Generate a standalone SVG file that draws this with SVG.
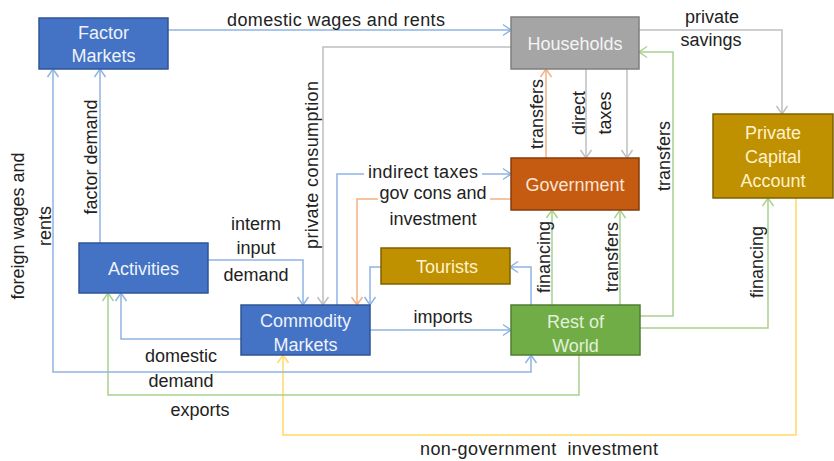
<svg xmlns="http://www.w3.org/2000/svg" width="834" height="461" viewBox="0 0 834 461">
  <style>
    text { font-family: "Liberation Sans", Arial, sans-serif; font-size: 18px; fill: #222222; }
    .node text { text-anchor: middle; }
    .lbl { text-anchor: middle; }
    .blue rect { fill: #4472c4; stroke: #2f5597; stroke-width: 1.5; }
    .blue text { fill: #eef3fb; }
    .gray rect { fill: #a5a5a5; stroke: #7f7f7f; stroke-width: 1.5; }
    .gray text { fill: #f4f4f4; }
    .orange rect { fill: #c55a11; stroke: #843c0c; stroke-width: 1.5; }
    .orange text { fill: #fbe5d6; }
    .gold rect { fill: #bf9000; stroke: #7f6000; stroke-width: 1.5; }
    .gold text { fill: #fff2cc; }
    .green rect { fill: #70ad47; stroke: #507e32; stroke-width: 1.5; }
    .green text { fill: #e2f0d9; }
    #connectors path { fill: none; stroke-width: 1.5; }
    .c-blue { stroke: #8eb4e3; marker-end: url(#ah-blue); }
    .c-gray { stroke: #bfbfbf; marker-end: url(#ah-gray); }
    .c-orange { stroke: #f4b183; marker-end: url(#ah-orange); }
    .c-green { stroke: #a9d18e; marker-end: url(#ah-green); }
    .c-yellow { stroke: #ffd966; marker-end: url(#ah-yellow); }
    .both { marker-start: url(#ah-blue); }
  </style>
  <defs>
    <marker id="ah-blue" viewBox="-10 -7 12 14" refX="0" refY="0" markerWidth="12" markerHeight="14" markerUnits="userSpaceOnUse" orient="auto-start-reverse">
      <path d="M-8,-5.5 L0,0 L-8,5.5" fill="none" stroke="#8eb4e3" stroke-width="1.5"/>
    </marker>
    <marker id="ah-gray" viewBox="-10 -7 12 14" refX="0" refY="0" markerWidth="12" markerHeight="14" markerUnits="userSpaceOnUse" orient="auto">
      <path d="M-8,-5.5 L0,0 L-8,5.5" fill="none" stroke="#bfbfbf" stroke-width="1.5"/>
    </marker>
    <marker id="ah-orange" viewBox="-10 -7 12 14" refX="0" refY="0" markerWidth="12" markerHeight="14" markerUnits="userSpaceOnUse" orient="auto">
      <path d="M-8,-5.5 L0,0 L-8,5.5" fill="none" stroke="#f4b183" stroke-width="1.5"/>
    </marker>
    <marker id="ah-green" viewBox="-10 -7 12 14" refX="0" refY="0" markerWidth="12" markerHeight="14" markerUnits="userSpaceOnUse" orient="auto">
      <path d="M-8,-5.5 L0,0 L-8,5.5" fill="none" stroke="#a9d18e" stroke-width="1.5"/>
    </marker>
    <marker id="ah-yellow" viewBox="-10 -7 12 14" refX="0" refY="0" markerWidth="12" markerHeight="14" markerUnits="userSpaceOnUse" orient="auto">
      <path d="M-8,-5.5 L0,0 L-8,5.5" fill="none" stroke="#ffd966" stroke-width="1.5"/>
    </marker>
  </defs>

  <rect width="834" height="461" fill="#ffffff"/>

  <!-- flows between accounts -->
  <g id="connectors">
    <path class="c-blue" d="M168,30 H511"/>
    <path class="c-gray" d="M511,47 H323 V305"/>
    <path class="c-gray" d="M639,30 H782 V114"/>
    <path class="c-orange" d="M546,158 V69"/>
    <path class="c-gray" d="M586,69 V158"/>
    <path class="c-gray" d="M627,69 V158"/>
    <path class="c-green" d="M640,316 H673 V52 H639"/>
    <path class="c-blue" d="M337,305 V174 H511"/>
    <path class="c-orange" d="M511,199 H357 V305"/>
    <path class="c-blue" d="M381,267 H370 V305"/>
    <path class="c-blue" d="M208,260 H303 V305"/>
    <path class="c-green" d="M552,305 V210"/>
    <path class="c-green" d="M620,305 V210"/>
    <path class="c-blue" d="M531,305 V267 H510"/>
    <path class="c-blue" d="M370,330 H511"/>
    <path class="c-green" d="M640,328 H768 V198"/>
    <path class="c-yellow" d="M796,198 V435 H283 V355"/>
    <path class="c-green" d="M579,355 V395 H108 V293"/>
    <path class="c-blue" d="M241,339 H121 V293"/>
    <path class="c-blue both" d="M53,69 V372 H531 V355"/>
    <path class="c-blue" d="M100,243 V69"/>
  </g>

  <!-- flow labels -->
  <g id="labels">
    <text class="lbl" x="336" y="26" textLength="218">domestic wages and rents</text>
    <text class="lbl" x="712" y="23">private</text>
    <text class="lbl" x="711" y="46">savings</text>
    <text class="lbl" transform="translate(318,165) rotate(-90)" textLength="168">private consumption</text>
    <text class="lbl" transform="translate(97,157) rotate(-90)">factor demand</text>
    <text class="lbl" transform="translate(24,226) rotate(-90)">foreign wages and</text>
    <text class="lbl" transform="translate(51,226) rotate(-90)">rents</text>
    <text class="lbl" transform="translate(543,114) rotate(-90)">transfers</text>
    <text class="lbl" transform="translate(585,113) rotate(-90)">direct</text>
    <text class="lbl" transform="translate(611,113) rotate(-90)">taxes</text>
    <text class="lbl" transform="translate(670,156) rotate(-90)">transfers</text>
    <text class="lbl" transform="translate(550,257) rotate(-90)">financing</text>
    <text class="lbl" transform="translate(618,257) rotate(-90)">transfers</text>
    <text class="lbl" transform="translate(763,262) rotate(-90)">financing</text>
    <rect x="364" y="162" width="118" height="18" fill="#ffffff"/>
    <text class="lbl" x="423" y="178" textLength="110">indirect taxes</text>
    <rect x="378" y="187" width="112" height="18" fill="#ffffff"/>
    <text class="lbl" x="433" y="199">gov cons and</text>
    <text class="lbl" x="433" y="225">investment</text>
    <text class="lbl" x="256" y="230">interm</text>
    <text class="lbl" x="256" y="254">input</text>
    <text class="lbl" x="256" y="281">demand</text>
    <text class="lbl" x="443" y="323">imports</text>
    <text class="lbl" x="181" y="362">domestic</text>
    <text class="lbl" x="181" y="387">demand</text>
    <text class="lbl" x="200" y="416">exports</text>
    <text class="lbl" x="539" y="455" textLength="238" xml:space="preserve">non-government  investment</text>
  </g>

  <!-- accounts -->
  <g id="factor-markets" class="node blue">
    <rect x="39" y="18" width="129" height="51"/>
    <text x="103.5" y="39">Factor</text>
    <text x="103.5" y="62">Markets</text>
  </g>
  <g id="households" class="node gray">
    <rect x="511" y="17" width="128" height="52"/>
    <text x="575" y="50">Households</text>
  </g>
  <g id="government" class="node orange">
    <rect x="511" y="158" width="128" height="52"/>
    <text x="575" y="191">Government</text>
  </g>
  <g id="private-capital-account" class="node gold">
    <rect x="713" y="114" width="120" height="84"/>
    <text x="773" y="139">Private</text>
    <text x="773" y="163">Capital</text>
    <text x="773" y="187">Account</text>
  </g>
  <g id="activities" class="node blue">
    <rect x="79" y="243" width="129" height="50"/>
    <text x="143.5" y="275">Activities</text>
  </g>
  <g id="tourists" class="node gold">
    <rect x="381" y="248" width="129" height="36"/>
    <text x="447" y="273">Tourists</text>
  </g>
  <g id="commodity-markets" class="node blue">
    <rect x="241" y="305" width="129" height="50"/>
    <text x="305.5" y="327">Commodity</text>
    <text x="305.5" y="351">Markets</text>
  </g>
  <g id="rest-of-world" class="node green">
    <rect x="511" y="305" width="129" height="50"/>
    <text x="575.5" y="328">Rest of</text>
    <text x="575.5" y="352">World</text>
  </g>
</svg>
